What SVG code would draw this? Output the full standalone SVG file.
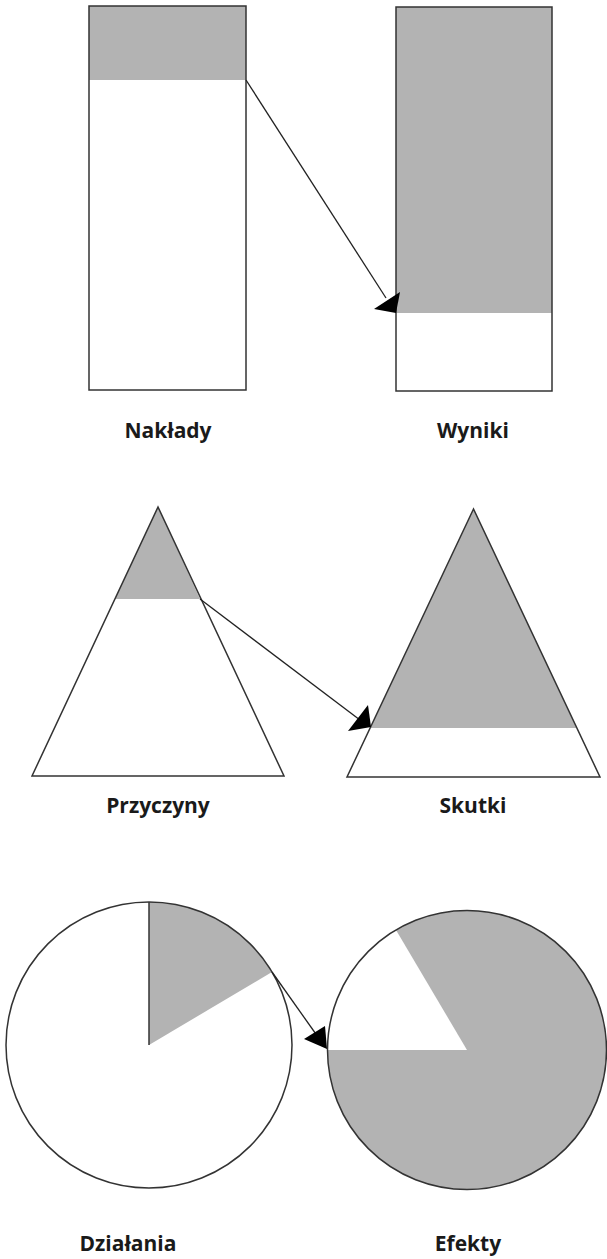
<svg xmlns="http://www.w3.org/2000/svg" width="607" height="1259" viewBox="0 0 607 1259">
<style>
.o{fill:none;stroke:#333;stroke-width:1.5}
.w{fill:#fff}
.g{fill:#b3b3b3}
.ln{stroke:#222;stroke-width:1.3;fill:none}
.ah{fill:#000}
.t{font-family:"Open Sans","Noto Sans",sans-serif;font-weight:bold;font-size:21px;fill:#1a1a1a;text-anchor:middle}
</style>
<rect width="607" height="1259" fill="#fff"/>
<g id="naklady">
<rect x="89" y="6" width="157" height="384" class="w"/>
<rect x="89" y="6" width="157" height="74" class="g"/>
<rect x="89" y="6" width="157" height="384" class="o"/>
</g>
<g id="wyniki">
<rect x="396" y="7" width="156" height="384" class="w"/>
<rect x="396" y="7" width="156" height="306" class="g"/>
<rect x="396" y="7" width="156" height="384" class="o"/>
</g>
<g id="przyczyny">
<polygon points="158,507 32,776 284,776" class="w"/>
<polygon points="158,507 115,599 200,599" class="g"/>
<polygon points="158,507 32,776 284,776" class="o"/>
</g>
<g id="skutki">
<polygon points="473.5,509 347,777 600,777" class="w"/>
<polygon points="473.5,509 370.5,728 576.5,728" class="g"/>
<polygon points="473.5,509 347,777 600,777" class="o"/>
</g>
<g id="dzialania">
<circle cx="149" cy="1045" r="143" class="w"/>
<path d="M149,1045 L149,902 A143,143 0 0 1 272,972 Z" class="g"/>
<line x1="149" y1="1045" x2="149" y2="902" class="o"/>
<circle cx="149" cy="1045" r="143" class="o"/>
</g>
<g id="efekty">
<circle cx="467" cy="1050" r="139.5" class="g"/>
<path d="M467,1050 L327.5,1050 A139.5,139.5 0 0 1 396,930 Z" class="w"/>
<circle cx="467" cy="1050" r="139.5" class="o"/>
</g>
<g id="connectors">
<line x1="246" y1="80" x2="386" y2="298" class="ln"/>
<polygon points="396,313 400,292 374,309" class="ah"/>
<line x1="200" y1="599" x2="360" y2="720" class="ln"/>
<polygon points="371,727 368,705 348,731" class="ah"/>
<line x1="272" y1="972" x2="318" y2="1037" class="ln"/>
<polygon points="327,1049 325,1026 304,1039" class="ah"/>
</g>
<g id="labels">
<text x="168" y="438" class="t">Nakłady</text>
<text x="473" y="438" class="t">Wyniki</text>
<text x="158" y="813" class="t">Przyczyny</text>
<text x="473" y="813" class="t">Skutki</text>
<text x="128" y="1251" class="t">Działania</text>
<text x="468" y="1251" class="t">Efekty</text>
</g>
</svg>
